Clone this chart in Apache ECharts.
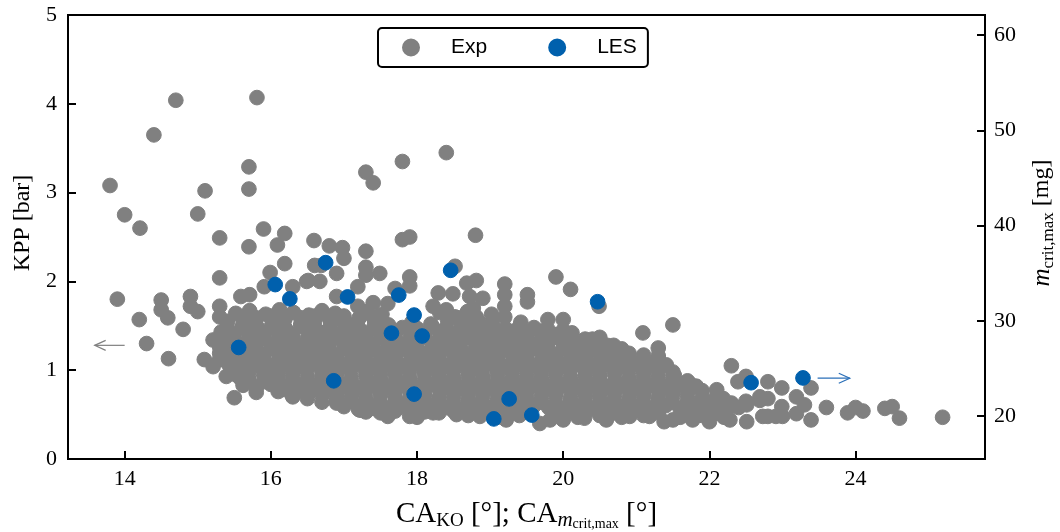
<!DOCTYPE html>
<html>
<head>
<meta charset="utf-8">
<script src="https://cdn.jsdelivr.net/npm/echarts@6/dist/echarts.min.js"></script>
<style>
  html, body { margin: 0; padding: 0; background: #fff; }
  #chart { width: 1060px; height: 532px; }
</style>
</head>
<body>
<div id="chart"></div>
<script>
const xTicks = [14, 16, 18, 20, 22, 24]
const massTicks = [20, 30, 40, 50, 60]

const expSparse = [
  [13.80, 3.08], [14.00, 2.75], [14.21, 2.60], [14.40, 3.65], [14.70, 4.04], [15.81, 4.07],
  [15.10, 3.02], [15.00, 2.76], [15.30, 2.49], [15.70, 3.29], [15.70, 3.04], [15.70, 2.39],
  [15.90, 2.59], [16.19, 2.54], [16.09, 2.41], [16.59, 2.46], [16.80, 2.40], [16.98, 2.38],
  [17.30, 3.23], [17.40, 3.11], [17.80, 3.35], [18.40, 3.45], [17.80, 2.47], [17.90, 2.50],
  [18.80, 2.52], [17.00, 2.26], [17.30, 2.34], [16.19, 2.20], [15.30, 2.04], [15.99, 2.10],
  [13.90, 1.80], [14.20, 1.57], [14.30, 1.30], [14.60, 1.13], [14.50, 1.79], [14.50, 1.68],
  [14.59, 1.59], [14.90, 1.83], [14.90, 1.72], [15.00, 1.66], [14.80, 1.46], [15.30, 1.72],
  [15.30, 1.60], [15.59, 1.83], [15.71, 1.85], [15.09, 1.12], [15.21, 1.04], [15.30, 1.31],
  [15.50, 0.69], [15.80, 0.75], [16.00, 0.93], [16.30, 0.70], [16.51, 0.74],
  [15.91, 1.94], [16.30, 1.94], [16.51, 2.01], [16.60, 2.18], [16.90, 2.09], [16.69, 2.18],
  [16.49, 2.00], [16.67, 2.00], [17.30, 2.16], [17.30, 2.07], [17.49, 2.09], [17.90, 2.05],
  [18.52, 2.17], [17.90, 1.95], [18.68, 1.98], [18.81, 2.01], [19.20, 1.97], [19.20, 1.85],
  [19.51, 1.85], [19.51, 1.77], [19.90, 2.05], [20.10, 1.91], [16.90, 1.83], [17.19, 1.94],
  [17.19, 1.72], [17.40, 1.76], [17.70, 1.92], [17.60, 1.75], [18.29, 1.87], [18.49, 1.86],
  [18.22, 1.72], [18.40, 1.68], [18.72, 1.83], [18.90, 1.81], [18.77, 1.70], [19.20, 1.72],
  [19.20, 1.60], [18.86, 1.53], [19.22, 1.45], [19.41, 1.45], [19.77, 1.45], [19.79, 1.57],
  [20.00, 1.57], [19.79, 1.46], [20.00, 1.45], [20.00, 1.36], [20.40, 1.35], [20.69, 1.28],
  [21.09, 1.42], [21.50, 1.51], [21.30, 1.25], [21.30, 1.16], [19.68, 1.23], [20.20, 1.25],
  [20.32, 1.19], [20.50, 1.11], [20.82, 1.15], [21.09, 1.12], [21.50, 0.98], [21.73, 0.85],
  [21.82, 0.82], [22.10, 0.78], [22.19, 0.68], [22.30, 1.05], [22.39, 0.87], [22.50, 0.93],
  [22.80, 0.87], [22.69, 0.70], [22.80, 0.68], [22.99, 0.80], [22.99, 0.59], [23.19, 0.70],
  [23.39, 0.80], [23.30, 0.61], [23.39, 0.44], [23.60, 0.58], [23.89, 0.52], [24.00, 0.58],
  [24.10, 0.54], [24.40, 0.57], [24.50, 0.59], [24.60, 0.46], [25.19, 0.47], [22.69, 0.66],
  [22.80, 0.48], [23.00, 0.48], [23.19, 0.51], [22.00, 0.63], [22.28, 0.59], [22.51, 0.61],
  [19.82, 0.44], [20.00, 0.44], [20.29, 0.46], [20.59, 0.44], [20.91, 0.48], [21.18, 0.48],
  [21.38, 0.42], [21.50, 0.44], [21.77, 0.44], [22.00, 0.42], [22.28, 0.44], [22.51, 0.42],
  [22.73, 0.48], [22.91, 0.48], [16.49, 0.74], [16.71, 0.74], [16.90, 0.66], [17.22, 0.55],
  [17.40, 0.57], [17.76, 0.59], [17.90, 0.48], [18.22, 0.52], [18.54, 0.50], [18.86, 0.48],
  [19.22, 0.44], [19.68, 0.40], [15.39, 0.93], [15.58, 0.91], [16.20, 0.78], [16.43, 0.78],
  [15.30, 1.26], [15.21, 1.34], [20.49, 1.72]
]

// experiments inside the dense cloud (estimated, overlapping)
const expCore = [
  [15.52, 1.64], [15.71, 1.67], [15.93, 1.63], [16.12, 1.68], [16.31, 1.65], [16.52, 1.62], [16.70, 1.67],
  [16.88, 1.64], [17.31, 1.66], [17.52, 1.63], [18.31, 1.65], [18.52, 1.60], [18.69, 1.66], [19.02, 1.63],
  [15.41, 1.55], [15.62, 1.52], [15.79, 1.56], [16.02, 1.53], [16.19, 1.57], [16.41, 1.52], [16.60, 1.55],
  [16.82, 1.53], [17.01, 1.56], [17.18, 1.52], [17.42, 1.55], [17.61, 1.51], [17.93, 1.54], [18.19, 1.52],
  [18.42, 1.56], [18.61, 1.53], [18.80, 1.55], [19.03, 1.52], [19.42, 1.54],
  [15.32, 1.43], [15.49, 1.40], [15.71, 1.44], [15.90, 1.41], [16.10, 1.43], [16.29, 1.40], [16.52, 1.44],
  [16.70, 1.42], [16.91, 1.40], [17.09, 1.44], [17.30, 1.41], [17.51, 1.43], [17.69, 1.40], [17.92, 1.44],
  [18.10, 1.41], [18.31, 1.43], [18.49, 1.40], [18.70, 1.44], [18.90, 1.42], [19.11, 1.40], [19.30, 1.43],
  [19.51, 1.41], [19.69, 1.44], [19.90, 1.40], [20.12, 1.42],
  [15.41, 1.31], [15.60, 1.28], [15.81, 1.32], [16.00, 1.29], [16.21, 1.31], [16.39, 1.28], [16.60, 1.32],
  [16.80, 1.30], [17.01, 1.28], [17.20, 1.32], [17.40, 1.29], [17.61, 1.31], [17.79, 1.28], [18.00, 1.32],
  [18.21, 1.30], [18.40, 1.28], [18.60, 1.31], [18.81, 1.29], [19.00, 1.32], [19.20, 1.28], [19.41, 1.31],
  [19.60, 1.29], [19.80, 1.32], [20.01, 1.28], [20.21, 1.30], [20.40, 1.32], [20.60, 1.28],
  [15.30, 1.19], [15.51, 1.16], [15.70, 1.20], [15.90, 1.17], [16.11, 1.19], [16.30, 1.16], [16.49, 1.20],
  [16.71, 1.18], [16.90, 1.16], [17.10, 1.20], [17.29, 1.17], [17.50, 1.19], [17.71, 1.16], [17.90, 1.20],
  [18.10, 1.18], [18.30, 1.16], [18.51, 1.19], [18.70, 1.17], [18.89, 1.20], [19.10, 1.16], [19.30, 1.19],
  [19.50, 1.17], [19.71, 1.20], [19.90, 1.16], [20.10, 1.19], [20.30, 1.17], [20.50, 1.20], [20.70, 1.16],
  [20.90, 1.19], [21.10, 1.17],
  [15.42, 1.07], [15.60, 1.04], [15.80, 1.08], [16.01, 1.05], [16.20, 1.07], [16.40, 1.04], [16.61, 1.08],
  [16.80, 1.06], [17.00, 1.04], [17.20, 1.08], [17.41, 1.05], [17.60, 1.07], [17.80, 1.04], [18.00, 1.08],
  [18.20, 1.06], [18.41, 1.04], [18.60, 1.07], [18.80, 1.05], [19.00, 1.08], [19.20, 1.04], [19.40, 1.07],
  [19.61, 1.05], [19.80, 1.08], [20.00, 1.04], [20.20, 1.07], [20.41, 1.05], [20.60, 1.08], [20.80, 1.04],
  [21.00, 1.07], [21.20, 1.05], [21.41, 1.06],
  [15.52, 0.95], [15.70, 0.92], [15.90, 0.96], [16.10, 0.93], [16.30, 0.95], [16.50, 0.92], [16.70, 0.96],
  [16.90, 0.94], [17.10, 0.92], [17.30, 0.96], [17.50, 0.93], [17.70, 0.95], [17.90, 0.92], [18.10, 0.96],
  [18.30, 0.94], [18.50, 0.92], [18.70, 0.95], [18.90, 0.93], [19.10, 0.96], [19.30, 0.92], [19.50, 0.95],
  [19.70, 0.93], [19.90, 0.96], [20.10, 0.92], [20.30, 0.95], [20.50, 0.93], [20.70, 0.96], [20.90, 0.92],
  [21.10, 0.95], [21.30, 0.93], [21.52, 0.94],
  [15.62, 0.83], [15.80, 0.80], [16.00, 0.84], [16.20, 0.81], [16.40, 0.83], [16.60, 0.80], [16.80, 0.84],
  [17.00, 0.82], [17.20, 0.80], [17.40, 0.84], [17.60, 0.81], [17.80, 0.83], [18.00, 0.80], [18.20, 0.84],
  [18.40, 0.82], [18.60, 0.80], [18.80, 0.83], [19.00, 0.81], [19.20, 0.84], [19.40, 0.80], [19.60, 0.83],
  [19.80, 0.81], [20.00, 0.84], [20.20, 0.80], [20.40, 0.83], [20.60, 0.81], [20.80, 0.84], [21.00, 0.80],
  [21.20, 0.83], [21.40, 0.81], [21.60, 0.84],
  [16.30, 0.71], [16.50, 0.68], [16.70, 0.72], [16.90, 0.69], [17.10, 0.71], [17.30, 0.68], [17.50, 0.72],
  [17.70, 0.70], [17.90, 0.68], [18.10, 0.72], [18.30, 0.69], [18.50, 0.71], [18.70, 0.68], [18.90, 0.72],
  [19.10, 0.70], [19.30, 0.68], [19.50, 0.71], [19.70, 0.69], [19.90, 0.72], [20.10, 0.68], [20.30, 0.71],
  [20.50, 0.69], [20.70, 0.72], [20.90, 0.68], [21.10, 0.71], [21.30, 0.69], [21.50, 0.72], [21.70, 0.68],
  [21.90, 0.70], [22.10, 0.71],
  [17.00, 0.59], [17.20, 0.56], [17.40, 0.60], [17.60, 0.57], [17.80, 0.59], [18.00, 0.56], [18.20, 0.60],
  [18.40, 0.58], [18.60, 0.56], [18.80, 0.60], [19.00, 0.57], [19.20, 0.59], [19.40, 0.56], [19.60, 0.60],
  [19.80, 0.58], [20.00, 0.56], [20.20, 0.59], [20.40, 0.57], [20.60, 0.60], [20.80, 0.56], [21.00, 0.59],
  [21.20, 0.57], [21.40, 0.60], [21.60, 0.56], [21.80, 0.59], [22.00, 0.57], [22.20, 0.55], [22.40, 0.58],
  [17.60, 0.48], [18.00, 0.47], [18.70, 0.49], [19.10, 0.47], [19.40, 0.49], [20.20, 0.47], [20.50, 0.49],
  [20.80, 0.47], [21.10, 0.49], [21.60, 0.47], [21.90, 0.49], [22.20, 0.47]
]

// more experiments sitting between the rows above (the cloud is solid there)
const expFill = [
  [15.61, 1.60], [15.80, 1.59], [16.01, 1.61], [16.20, 1.60], [16.41, 1.59], [16.60, 1.61], [16.79, 1.60],
  [17.00, 1.61], [17.21, 1.59], [17.40, 1.60], [18.41, 1.61], [18.60, 1.59], [18.81, 1.60],
  [15.40, 1.48], [15.60, 1.47], [15.81, 1.49], [16.00, 1.48], [16.20, 1.47], [16.41, 1.49], [16.60, 1.48],
  [16.80, 1.47], [17.01, 1.49], [17.20, 1.48], [17.40, 1.47], [17.60, 1.49], [17.80, 1.48], [18.00, 1.47],
  [18.21, 1.49], [18.40, 1.48], [18.60, 1.47], [18.80, 1.49], [19.00, 1.48], [19.21, 1.47], [19.40, 1.49],
  [19.60, 1.48],
  [15.31, 1.36], [15.50, 1.35], [15.70, 1.37], [15.91, 1.36], [16.10, 1.35], [16.30, 1.37], [16.50, 1.36],
  [16.71, 1.35], [16.90, 1.37], [17.10, 1.36], [17.30, 1.35], [17.50, 1.37], [17.71, 1.36], [17.90, 1.35],
  [18.10, 1.37], [18.30, 1.36], [18.50, 1.35], [18.71, 1.37], [18.90, 1.36], [19.10, 1.35], [19.30, 1.37],
  [19.50, 1.36], [19.70, 1.35], [19.91, 1.37], [20.10, 1.36], [20.30, 1.35], [20.50, 1.37],
  [15.40, 1.24], [15.60, 1.23], [15.80, 1.25], [16.01, 1.24], [16.20, 1.23], [16.40, 1.25], [16.60, 1.24],
  [16.80, 1.23], [17.00, 1.25], [17.21, 1.24], [17.40, 1.23], [17.60, 1.25], [17.80, 1.24], [18.01, 1.23],
  [18.20, 1.25], [18.40, 1.24], [18.60, 1.23], [18.80, 1.25], [19.01, 1.24], [19.20, 1.23], [19.40, 1.25],
  [19.60, 1.24], [19.80, 1.23], [20.00, 1.25], [20.21, 1.24], [20.40, 1.23], [20.60, 1.25], [20.80, 1.24],
  [15.30, 1.12], [15.50, 1.11], [15.70, 1.13], [15.90, 1.12], [16.10, 1.11], [16.31, 1.13], [16.50, 1.12],
  [16.70, 1.11], [16.90, 1.13], [17.10, 1.12], [17.30, 1.11], [17.50, 1.13], [17.70, 1.12], [17.91, 1.11],
  [18.10, 1.13], [18.30, 1.12], [18.50, 1.11], [18.70, 1.13], [18.90, 1.12], [19.10, 1.11], [19.31, 1.13],
  [19.50, 1.12], [19.70, 1.11], [19.90, 1.13], [20.10, 1.12], [20.30, 1.11], [20.70, 1.13], [20.90, 1.12],
  [21.10, 1.11], [21.30, 1.13],
  [15.50, 1.00], [15.70, 0.99], [15.90, 1.01], [16.10, 1.00], [16.30, 0.99], [16.50, 1.01], [16.70, 1.00],
  [16.91, 0.99], [17.10, 1.01], [17.30, 1.00], [17.50, 0.99], [17.70, 1.01], [17.90, 1.00], [18.10, 0.99],
  [18.30, 1.01], [18.50, 1.00], [18.71, 0.99], [18.90, 1.01], [19.10, 1.00], [19.30, 0.99], [19.50, 1.01],
  [19.70, 1.00], [19.90, 0.99], [20.10, 1.01], [20.30, 1.00], [20.50, 0.99], [20.71, 1.01], [20.90, 1.00],
  [21.10, 0.99], [21.30, 1.01],
  [15.70, 0.88], [15.90, 0.87], [16.10, 0.89], [16.30, 0.88], [16.50, 0.87], [16.70, 0.89], [16.90, 0.88],
  [17.10, 0.87], [17.31, 0.89], [17.50, 0.88], [17.70, 0.87], [17.90, 0.89], [18.10, 0.88], [18.30, 0.87],
  [18.50, 0.89], [18.70, 0.88], [18.90, 0.87], [19.10, 0.89], [19.31, 0.88], [19.50, 0.87], [19.70, 0.89],
  [19.90, 0.88], [20.10, 0.87], [20.30, 0.89], [20.50, 0.88], [20.70, 0.87], [20.90, 0.89], [21.10, 0.88],
  [21.30, 0.87], [21.50, 0.89], [21.70, 0.88],
  [16.10, 0.76], [16.30, 0.75], [16.50, 0.77], [16.70, 0.76], [16.90, 0.75], [17.10, 0.77], [17.30, 0.76],
  [17.50, 0.75], [17.70, 0.77], [17.90, 0.76], [18.10, 0.75], [18.31, 0.77], [18.50, 0.76], [18.70, 0.75],
  [18.90, 0.77], [19.10, 0.76], [19.30, 0.75], [19.50, 0.77], [19.70, 0.76], [19.90, 0.75], [20.10, 0.77],
  [20.30, 0.76], [20.50, 0.75], [20.70, 0.77], [20.90, 0.76], [21.10, 0.75], [21.30, 0.77], [21.50, 0.76],
  [21.70, 0.75], [21.90, 0.77],
  [16.70, 0.64], [16.90, 0.63], [17.10, 0.65], [17.30, 0.64], [17.50, 0.63], [17.70, 0.65], [17.90, 0.64],
  [18.10, 0.63], [18.30, 0.65], [18.50, 0.64], [18.70, 0.63], [18.90, 0.65], [19.10, 0.64], [19.30, 0.63],
  [19.50, 0.65], [19.70, 0.64], [19.90, 0.63], [20.10, 0.65], [20.30, 0.64], [20.50, 0.63], [20.70, 0.65],
  [20.90, 0.64], [21.10, 0.63], [21.30, 0.65], [21.50, 0.64], [21.70, 0.63], [21.90, 0.65], [22.10, 0.64],
  [22.30, 0.63], [22.50, 0.65],
  [17.30, 0.53], [17.50, 0.52], [17.70, 0.54], [18.10, 0.53], [18.30, 0.52], [18.50, 0.54], [18.90, 0.53],
  [19.10, 0.52], [19.30, 0.54], [19.50, 0.53], [19.90, 0.52], [20.10, 0.54], [20.30, 0.53], [20.70, 0.52],
  [20.90, 0.54], [21.10, 0.53], [21.30, 0.52], [21.70, 0.54], [21.90, 0.53], [22.10, 0.52]
]

// LES: CA at m_crit,max [deg], m_crit,max [mg]
const lesPoints = [
  [15.56, 27.2], [16.06, 33.8], [16.26, 32.3], [16.75, 36.1], [16.86, 23.7], [17.05, 32.5],
  [17.65, 28.7], [17.75, 32.7], [17.96, 30.6], [18.07, 28.4], [17.96, 22.3], [18.46, 35.3],
  [19.05, 19.7], [19.26, 21.8], [19.57, 20.1], [20.47, 32.0], [22.57, 23.5], [23.28, 24.0]
]

const gray = '#808080'
const blue = '#0060ad'
const serif = 'Liberation Serif'

const chart = echarts.init(document.getElementById('chart'), null, { renderer: 'canvas' })

const tickStyle = { show: true, inside: true, length: 8, lineStyle: { color: '#000', width: 2 } }

const option = {
  animation: false,
  backgroundColor: '#fff',
  grid: {
    left: 68, right: 75, top: 15, bottom: 73,
    containLabel: false,
    outerBoundsMode: 'none',
    show: true, borderColor: '#000', borderWidth: 2
  },
  legend: {
    left: 378,
    top: 28,
    padding: [9, 11, 9, 24],
    itemWidth: 50,
    itemHeight: 16,
    itemGap: 61,
    borderColor: '#000',
    borderWidth: 2,
    borderRadius: 4,
    backgroundColor: '#fff',
    textStyle: { fontFamily: 'Liberation Sans', fontSize: 21, color: '#000', lineHeight: 21, padding: [0, 0, 0, 10] },
    data: [{ name: 'Exp', icon: 'circle' }, { name: 'LES', icon: 'circle' }]
  },
  xAxis: {
    type: 'value',
    min: 13.225,
    max: 25.77,
    splitLine: { show: false },
    axisLine: { lineStyle: { color: '#000', width: 2 } },
    axisTick: Object.assign({ customValues: xTicks }, tickStyle),
    axisLabel: { customValues: xTicks, fontFamily: serif, fontSize: 22, color: '#000', margin: 9 },
    name: '{n|CA}{s|KO}{n| [°]; CA}{si|m}{ss|crit,max}{n| [°]}',
    nameLocation: 'middle',
    nameGap: 38,
    nameTextStyle: {
      rich: {
        n: { fontFamily: serif, fontSize: 29, color: '#000', lineHeight: 34 },
        s: { fontFamily: serif, fontSize: 19, color: '#000', lineHeight: 16, verticalAlign: 'bottom' },
        si: { fontFamily: serif, fontSize: 21, fontStyle: 'italic', color: '#000', lineHeight: 16, verticalAlign: 'bottom' },
        ss: { fontFamily: serif, fontSize: 14, color: '#000', lineHeight: 8, verticalAlign: 'bottom' }
      }
    }
  },
  yAxis: [
    {
      type: 'value',
      min: 0,
      max: 5,
      interval: 1,
      splitLine: { show: false },
      axisLine: { lineStyle: { color: '#000', width: 2 } },
      axisTick: tickStyle,
      axisLabel: { fontFamily: serif, fontSize: 22, color: '#000', margin: 11 },
      name: 'KPP [bar]',
      nameLocation: 'middle',
      nameRotate: 90,
      nameGap: 29,
      nameTextStyle: { fontFamily: serif, fontSize: 24, color: '#000', padding: [0, 0, 0, 28] }
    },
    {
      type: 'value',
      position: 'right',
      min: 15.49,
      max: 62.1,
      alignTicks: false,
      splitLine: { show: false },
      axisLine: { show: true, lineStyle: { color: '#000', width: 2 } },
      axisTick: Object.assign({ customValues: massTicks }, tickStyle),
      axisLabel: { customValues: massTicks, fontFamily: serif, fontSize: 22, color: '#000', margin: 9 },
      name: '{si|m}{s|crit,max}{n| [mg]}',
      nameLocation: 'middle',
      nameRotate: 90,
      nameGap: 42,
      nameTextStyle: {
        padding: [0, 0, 0, 28],
        rich: {
          n: { fontFamily: serif, fontSize: 24, color: '#000', lineHeight: 30 },
          si: { fontFamily: serif, fontSize: 25, fontStyle: 'italic', color: '#000', lineHeight: 30 },
          s: { fontFamily: serif, fontSize: 17, color: '#000', lineHeight: 14, verticalAlign: 'bottom' }
        }
      }
    }
  ],
  series: [
    {
      name: 'Exp',
      type: 'scatter',
      yAxisIndex: 0,
      symbol: 'circle',
      symbolSize: 14.7,
      itemStyle: { color: gray, opacity: 1, borderColor: gray, borderWidth: 1 },
      emphasis: { disabled: true },
      data: expSparse.concat(expCore, expFill),
      z: 2
    },
    {
      name: 'LES',
      type: 'scatter',
      yAxisIndex: 1,
      symbol: 'circle',
      symbolSize: 14.7,
      itemStyle: { color: blue, opacity: 1, borderColor: blue, borderWidth: 1 },
      emphasis: { disabled: true },
      data: lesPoints,
      z: 3
    }
  ]
}

chart.setOption(option)

// arrows telling which axis belongs to which set
function arrow(tail, tip, color) {
  const a = chart.convertToPixel({ xAxisIndex: 0, yAxisIndex: 0 }, tail)
  const b = chart.convertToPixel({ xAxisIndex: 0, yAxisIndex: 0 }, tip)
  const dir = Math.sign(b[0] - a[0])
  return [
    { type: 'line', shape: { x1: a[0], y1: a[1], x2: b[0], y2: b[1] }, style: { stroke: color, lineWidth: 1.2 }, z: 10 },
    {
      type: 'polyline',
      shape: { points: [[b[0] - dir * 11, b[1] - 5], [b[0], b[1]], [b[0] - dir * 11, b[1] + 5]] },
      style: { stroke: color, lineWidth: 1.2, fill: null },
      z: 10
    }
  ]
}

chart.setOption({
  graphic: arrow([14.0, 1.28], [13.59, 1.28], gray).concat(arrow([23.48, 0.91], [23.92, 0.91], '#2a6fb8'))
})
</script>
</body>
</html>
